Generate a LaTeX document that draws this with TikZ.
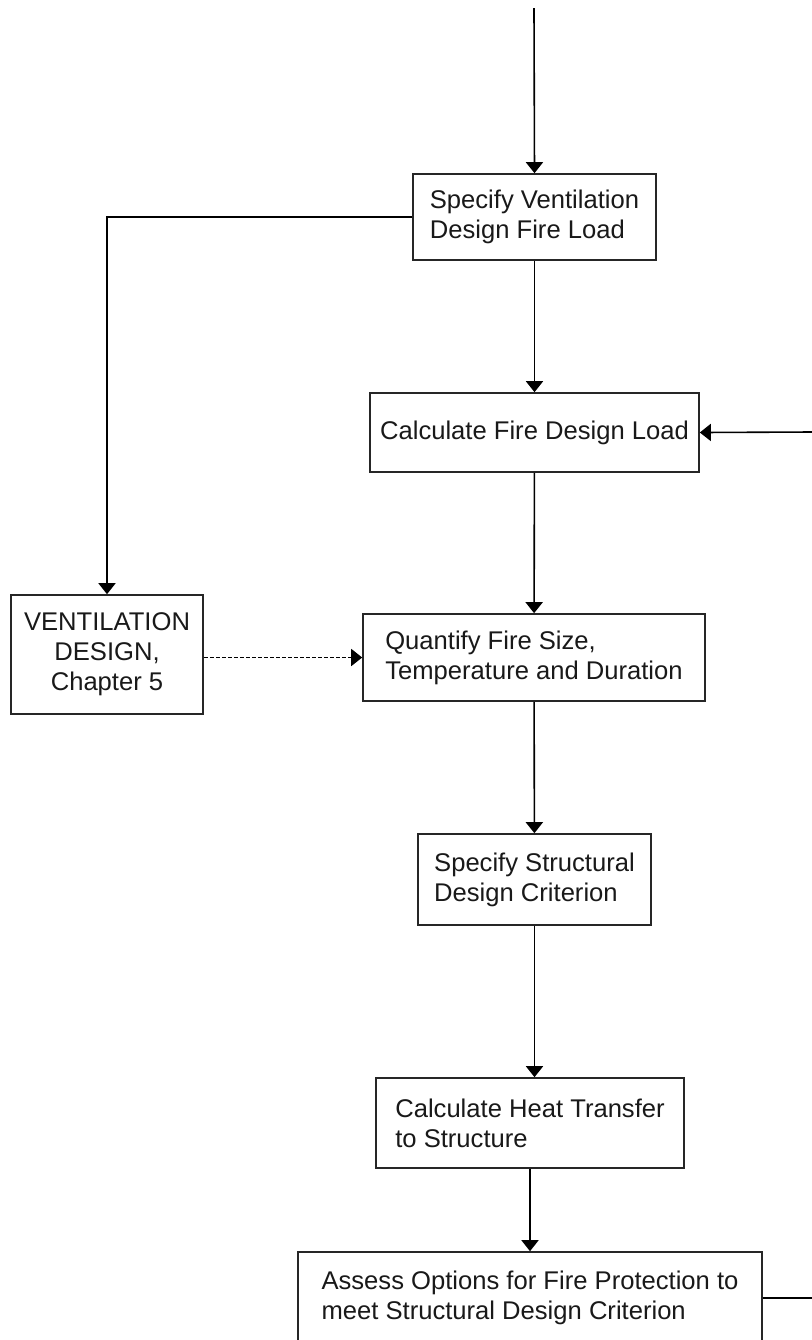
\documentclass[tikz,border=0pt]{standalone}
\usepackage{fontspec}
\setmainfont{Liberation Sans}
\usetikzlibrary{arrows.meta,positioning}

\begin{document}
\begin{tikzpicture}[x=0.5pt, y=-0.5pt, ->, >={Triangle[length=5.5pt,width=8.5pt]}, line width=0.8pt]
	\tikzstyle{box}=[draw=black!85, fill=white, text=black!90, align=left, inner sep=0pt, font=\fontsize{12.8}{15}\selectfont]
	\useasboundingbox (0,0) rectangle (812,1340);
	\node[box, minimum width=121.5pt, minimum height=43pt]   (vent)   at (534.5,217)  {Specify Ventilation\\Design Fire Load};
	\node[box, minimum width=164.5pt, minimum height=39.5pt] (load)   at (534.5,432.5) {Calculate Fire Design Load};
	\node[box, align=center, minimum width=96pt, minimum height=59.5pt] (chap)   at (107,654.5) {VENTILATION\\DESIGN,\\Chapter 5};
	\node[box, minimum width=171pt, minimum height=43.5pt]   (size)   at (534,657.5)  {Quantify Fire Size,\\Temperature and Duration};
	\node[box, minimum width=116.5pt, minimum height=45.5pt] (crit)   at (534.5,879.5) {Specify Structural\\Design Criterion};
	\node[box, minimum width=154pt, minimum height=45pt]     (heat)   at (530,1123)   {Calculate Heat Transfer\\to Structure};
	\node[box, minimum width=232pt, minimum height=46pt]     (assess) at (530,1298)   {Assess Options for Fire Protection to\\meet Structural Design Criterion};
	\coordinate (start) at (534,8);
	\coordinate (back)  at (812,432);
	\coordinate (out)   at (812,1298);
	\draw (start) -- (vent.north);
	\draw (vent.west) -| (chap.north);
	\draw (back) -- (load.east);
	\draw[dash pattern=on 2pt off 1pt] (chap.east |- size.west) -- (size.west);
	\path
	(vent) edge (load)
	(load) edge (size)
	(size) edge (crit)
	(crit.south) edge (crit.south |- heat.north)
	(heat) edge (assess);
	\draw[-] (assess.east) -- (out);
\end{tikzpicture}
\end{document}
